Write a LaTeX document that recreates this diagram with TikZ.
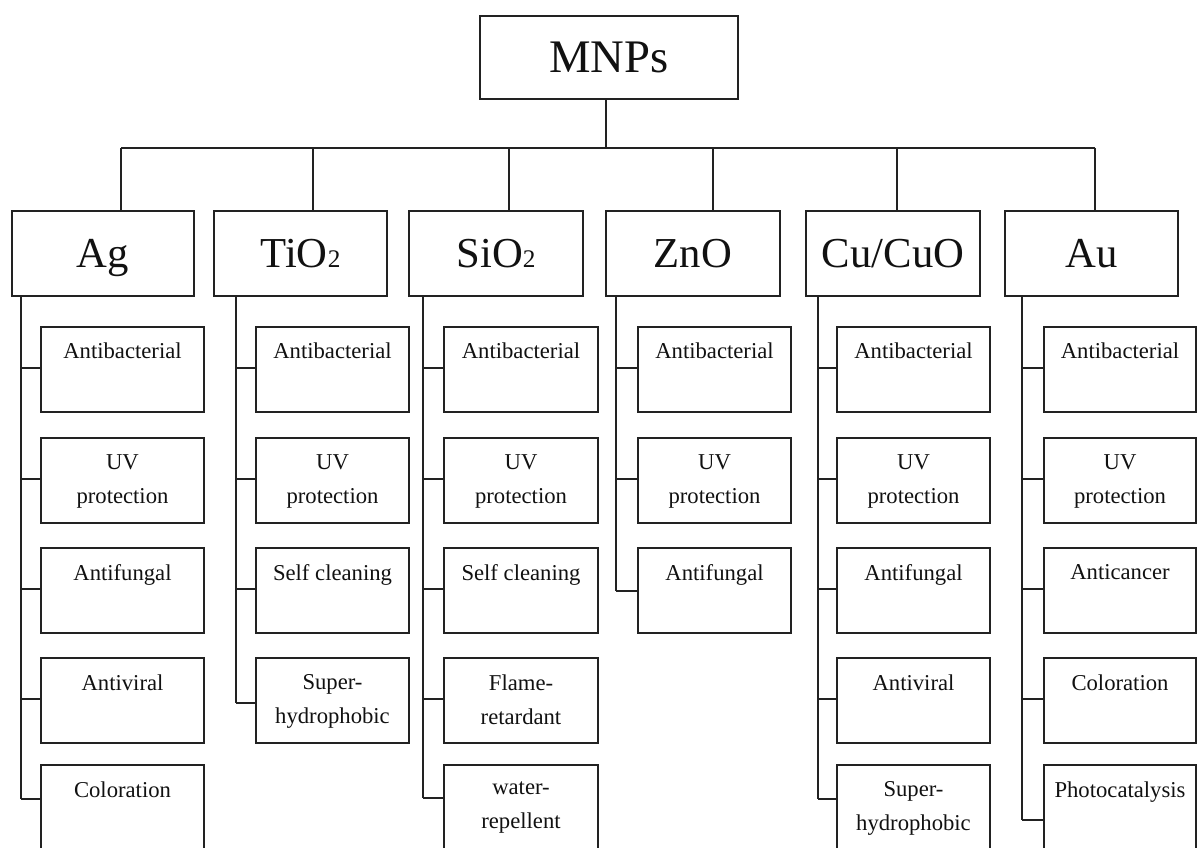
\documentclass[tikz,border=0pt]{standalone}
\usepackage{fontspec}
\setmainfont{Liberation Serif}
\usetikzlibrary{fit,calc}
\definecolor{linec}{HTML}{222222}
\definecolor{txtc}{HTML}{111111}
\newcommand\mkkid[6]{%
  \node[boxs, fit={(#2,#3) (#4,#5)}] (#1) {};
  \node[txt] (#1t) at ($(#1.north)+(0,17)$) {#6};}
\newcommand\mktop[6]{%
  \node[boxs, fit={(#2,#3) (#4,#5)}] (#1) {};
  \node[bigt] (#1t) at ($(#1.north)+(0,58)$) {#6};}
\newcommand\mktick[3]{%
  \coordinate (#1k) at ($(#1.north west)+(0,#3)$);
  \draw[ln] (#1k) -- (#1k -| #2);}
\newcommand\subtwo{{\fontsize{19}{19}\selectfont 2}}
\begin{document}
\begin{tikzpicture}[x=0.75pt,y=-0.75pt]
\tikzset{
  ln/.style={draw=linec, line width=1.5pt},
  boxs/.style={draw=linec, line width=1.5pt, rectangle, inner sep=0pt},
  txt/.style={font=\fontsize{17}{25.5}\selectfont, text=txtc, align=center, anchor=north, inner sep=0pt},
  bigt/.style={font=\fontsize{32}{38}\selectfont, text=txtc, anchor=base, inner sep=0pt},
}
\useasboundingbox (0,0) rectangle (1198,848);
\fill[white] (0,0) rectangle (1198,848);
\clip (0,0) rectangle (1198,848);

% root
\node[boxs, fit={(480,16) (738,99)}] (mnps) {};
\node[bigt, font=\fontsize{35}{40}\selectfont] (mnpst) at ($(mnps.north)+(0,58)$) {MNPs};

% top-level boxes
\mktop{ag}{12}{211}{194}{296}{Ag}
\mktop{ti}{214}{211}{387}{296}{TiO\subtwo}
\mktop{si}{409}{211}{583}{296}{SiO\subtwo}
\mktop{zn}{606}{211}{780}{296}{ZnO}
\mktop{cu}{806}{211}{980}{296}{Cu/CuO}
\mktop{au}{1005}{211}{1178}{296}{Au}

% bus
\coordinate (agd) at (121,148);
\coordinate (tid) at (313,148);
\coordinate (sid) at (509,148);
\coordinate (znd) at (713,148);
\coordinate (cud) at (897,148);
\coordinate (aud) at (1095,148);
\coordinate (hub) at (606,148);
\draw[ln] (mnps.south -| hub) -- (hub);
\draw[ln] (agd) -- (aud);
\foreach \n in {ag,ti,si,zn,cu,au} {\draw[ln] (\n d) -- (\n d |- \n.north);}

% vertical spine x positions
\coordinate (agv) at (21,0);
\coordinate (tiv) at (236,0);
\coordinate (siv) at (423,0);
\coordinate (znv) at (616,0);
\coordinate (cuv) at (818,0);
\coordinate (auv) at (1022,0);

% Ag
\mkkid{ag1}{41}{327}{204}{412}{Antibacterial}
\mkkid{ag2}{41}{438}{204}{523}{UV\\protection}
\mkkid{ag3}{41}{548}{204}{633}{Antifungal}
\mkkid{ag4}{41}{658}{204}{743}{Antiviral}
\mkkid{ag5}{41}{765}{204}{860}{Coloration}
% TiO2
\mkkid{ti1}{256}{327}{409}{412}{Antibacterial}
\mkkid{ti2}{256}{438}{409}{523}{UV\\protection}
\mkkid{ti3}{256}{548}{409}{633}{Self cleaning}
\mkkid{ti4}{256}{658}{409}{743}{Super-\\hydrophobic}
% SiO2
\mkkid{si1}{444}{327}{598}{412}{Antibacterial}
\mkkid{si2}{444}{438}{598}{523}{UV\\protection}
\mkkid{si3}{444}{548}{598}{633}{Self cleaning}
\mkkid{si4}{444}{658}{598}{743}{Flame-\\retardant}
\mkkid{si5}{444}{765}{598}{860}{water-\\repellent}
% ZnO
\mkkid{zn1}{638}{327}{791}{412}{Antibacterial}
\mkkid{zn2}{638}{438}{791}{523}{UV\\protection}
\mkkid{zn3}{638}{548}{791}{633}{Antifungal}
% Cu/CuO
\mkkid{cu1}{837}{327}{990}{412}{Antibacterial}
\mkkid{cu2}{837}{438}{990}{523}{UV\\protection}
\mkkid{cu3}{837}{548}{990}{633}{Antifungal}
\mkkid{cu4}{837}{658}{990}{743}{Antiviral}
\mkkid{cu5}{837}{765}{990}{860}{Super-\\hydrophobic}
% Au
\mkkid{au1}{1044}{327}{1196}{412}{Antibacterial}
\mkkid{au2}{1044}{438}{1196}{523}{UV\\protection}
\mkkid{au3}{1044}{548}{1196}{633}{Anticancer}
\mkkid{au4}{1044}{658}{1196}{743}{Coloration}
\mkkid{au5}{1044}{765}{1196}{860}{Photocatalysis}

% ticks
\foreach \b/\v in {ag1/agv,ag2/agv,ag3/agv,ag4/agv,
                   ti1/tiv,ti2/tiv,ti3/tiv,
                   si1/siv,si2/siv,si3/siv,si4/siv,
                   zn1/znv,zn2/znv,
                   cu1/cuv,cu2/cuv,cu3/cuv,cu4/cuv,
                   au1/auv,au2/auv,au3/auv,au4/auv}
  {\mktick{\b}{\v}{42}}
\mktick{ag5}{agv}{35}
\mktick{ti4}{tiv}{46}
\mktick{si5}{siv}{34}
\mktick{zn3}{znv}{44}
\mktick{cu5}{cuv}{35}
\mktick{au5}{auv}{56}

% spines
\draw[ln] (ag.south -| agv) -- (ag5k -| agv);
\draw[ln] (ti.south -| tiv) -- (ti4k -| tiv);
\draw[ln] (si.south -| siv) -- (si5k -| siv);
\draw[ln] (zn.south -| znv) -- (zn3k -| znv);
\draw[ln] (cu.south -| cuv) -- (cu5k -| cuv);
\draw[ln] (au.south -| auv) -- (au5k -| auv);
\end{tikzpicture}
\end{document}
